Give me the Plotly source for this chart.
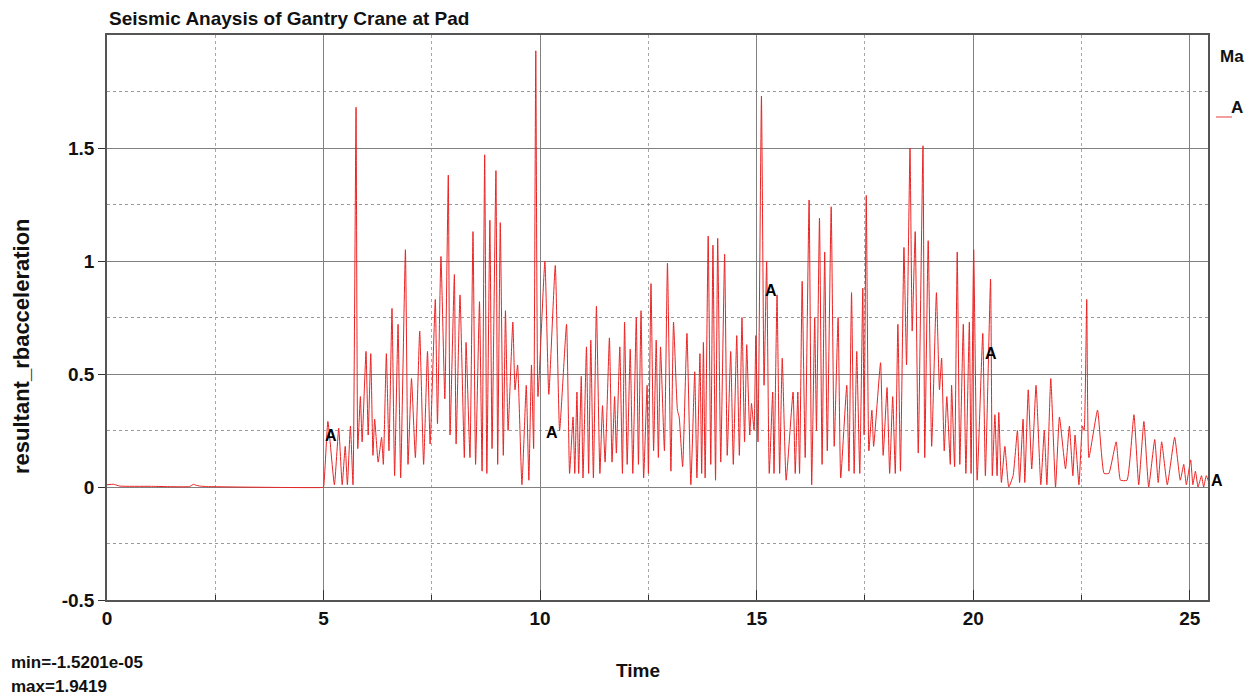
import plotly.graph_objects as go

# Time samples (s) and resultant rb acceleration (peaks & troughs)
time = [
    0.0, 0.15, 0.3, 1.0, 1.9, 2.0, 2.05, 2.15, 2.3, 3.0, 4.0, 4.98, 5.0,
    5.10, 5.25, 5.35, 5.43, 5.50, 5.55, 5.62, 5.68, 5.75, 5.79, 5.85, 5.89, 5.98, 6.03, 6.09, 6.14,
    6.18, 6.26, 6.34, 6.38, 6.45, 6.51, 6.58, 6.64, 6.72, 6.78, 6.89, 6.95, 7.03, 7.12, 7.22, 7.31,
    7.40, 7.46, 7.58, 7.63, 7.71, 7.80, 7.88, 7.92, 8.02, 8.06, 8.15, 8.25, 8.29, 8.38, 8.45, 8.51,
    8.60, 8.66, 8.72, 8.77, 8.84, 8.89, 8.98, 9.02, 9.08, 9.15, 9.20, 9.26, 9.37, 9.42, 9.48, 9.58,
    9.68, 9.74, 9.80, 9.85, 9.90, 9.95,
    10.11, 10.20, 10.35, 10.45, 10.61, 10.68, 10.76, 10.80, 10.85, 10.89, 10.95, 10.99, 11.07, 11.12,
    11.17, 11.23, 11.30, 11.38, 11.44, 11.50, 11.60, 11.66, 11.72, 11.76, 11.84, 11.90, 11.95, 12.01,
    12.08, 12.14, 12.22, 12.27, 12.33, 12.39, 12.47, 12.50, 12.56, 12.62, 12.68, 12.73, 12.78, 12.87,
    12.94, 13.02, 13.08, 13.17, 13.21, 13.29, 13.39, 13.48, 13.57, 13.62, 13.69, 13.73, 13.77, 13.81,
    13.88, 13.94, 13.99, 14.05, 14.10, 14.17, 14.26, 14.32, 14.40, 14.46, 14.54, 14.60, 14.66, 14.72,
    14.77, 14.84, 14.88, 14.94, 14.98, 15.03, 15.11,
    15.17, 15.23, 15.29, 15.37, 15.40, 15.47, 15.53, 15.59, 15.68, 15.84, 15.89, 15.95, 15.99, 16.05,
    16.12, 16.21, 16.27, 16.34, 16.38, 16.45, 16.51, 16.57, 16.63, 16.72, 16.79, 16.88, 16.94, 17.08,
    17.13, 17.19, 17.25, 17.31, 17.38, 17.45, 17.48, 17.53, 17.59, 17.66, 17.70, 17.86, 17.92, 18.01,
    18.07, 18.14, 18.20, 18.26, 18.32, 18.40, 18.46, 18.54, 18.59, 18.66, 18.73, 18.84, 18.88, 18.96,
    19.04, 19.15, 19.22, 19.27, 19.33, 19.39, 19.47, 19.50, 19.57, 19.63, 19.69, 19.77, 19.83, 19.91,
    19.95, 20.01, 20.09, 20.22, 20.28,
    20.40, 20.44, 20.50, 20.55, 20.59, 20.65, 20.73, 20.82, 20.92, 21.02, 21.07, 21.15, 21.19, 21.27,
    21.35, 21.45, 21.56, 21.64, 21.70, 21.79, 21.90, 21.99, 22.13, 22.22, 22.30, 22.35, 22.44, 22.52,
    22.56, 22.62, 22.67, 22.87, 23.02, 23.13, 23.30, 23.40, 23.55, 23.71, 23.82, 23.94, 24.05, 24.19,
    24.27, 24.35, 24.48, 24.65, 24.78, 24.86, 24.92, 25.02, 25.07, 25.13, 25.19, 25.27, 25.32, 25.38,
    25.44,
]
accel = [
    0.01, 0.012, 0.004, 0.003, 0.002, 0.012, 0.008, 0.004, 0.002, 0.0, -0.002, -0.002, 0.0,
    0.29, 0.01, 0.26, 0.01, 0.18, 0.01, 0.27, 0.01, 1.68, 0.17, 0.40, 0.20, 0.60, 0.23, 0.59, 0.14,
    0.30, 0.11, 0.22, 0.10, 0.59, 0.16, 0.79, 0.05, 0.72, 0.04, 1.05, 0.10, 0.48, 0.13, 0.69, 0.10,
    0.60, 0.19, 0.83, 0.28, 1.02, 0.39, 1.38, 0.23, 0.94, 0.19, 0.85, 0.13, 0.64, 0.13, 1.13, 0.10,
    0.82, 0.07, 1.47, 0.06, 1.18, 0.17, 1.40, 0.10, 1.17, 0.14, 0.78, 0.25, 0.73, 0.43, 0.54, 0.01,
    0.45, 0.03, 0.54, 0.17, 1.93, 0.40,
    1.00, 0.41, 0.98, 0.25, 0.72, 0.06, 0.31, 0.06, 0.42, 0.06, 0.49, 0.04, 0.62, 0.06,
    0.65, 0.04, 0.80, 0.06, 0.36, 0.11, 0.66, 0.11, 0.40, 0.15, 0.62, 0.06, 0.73, 0.10,
    0.61, 0.06, 0.75, 0.10, 0.78, 0.04, 0.45, 0.06, 0.90, 0.16, 0.65, 0.13, 0.62, 0.16,
    0.99, 0.07, 0.73, 0.34, 0.31, 0.09, 0.68, 0.01, 0.51, 0.04, 0.59, 0.06, 0.64, 0.04,
    1.11, 0.10, 1.07, 0.03, 1.10, 0.11, 1.03, 0.14, 0.60, 0.10, 0.67, 0.14, 0.75, 0.20,
    0.63, 0.23, 0.37, 0.25, 0.67, 0.20, 1.73,
    0.45, 1.00, 0.06, 0.42, 0.06, 0.85, 0.06, 0.57, 0.03, 0.42, 0.06, 0.42, 0.06, 0.91,
    0.13, 1.27, 0.01, 0.75, 0.25, 1.19, 0.10, 1.04, 0.16, 1.24, 0.18, 0.75, 0.04, 0.45,
    0.07, 0.86, 0.06, 0.60, 0.06, 0.88, 0.23, 1.29, 0.16, 0.34, 0.18, 0.55, 0.14, 0.44,
    0.06, 0.40, 0.06, 0.72, 0.07, 1.06, 0.54, 1.50, 0.69, 1.13, 0.15, 1.51, 0.13, 1.09,
    0.18, 0.86, 0.43, 0.57, 0.16, 0.40, 0.10, 0.45, 0.09, 1.04, 0.10, 0.72, 0.06, 0.73,
    0.06, 1.05, 0.03, 0.68, 0.05,
    0.92, 0.05, 0.32, 0.05, 0.33, 0.02, 0.18, 0.00, 0.05, 0.25, 0.02, 0.30, 0.02, 0.43,
    0.08, 0.45, 0.01, 0.25, 0.01, 0.48, 0.00, 0.31, 0.08, 0.27, 0.05, 0.23, 0.01, 0.27,
    0.25, 0.83, 0.13, 0.34, 0.06, 0.06, 0.20, 0.03, 0.03, 0.32, 0.01, 0.29, 0.00, 0.21,
    0.02, 0.20, 0.01, 0.22, 0.03, 0.10, 0.01, 0.12, 0.01, 0.07, 0.00, 0.05, 0.00, 0.05,
    0.02,
]

# curve label positions ("A" markers along the curve); the last one sits just past the right border
label_t = [5.18, 10.28, 15.33, 20.42, 25.42]
label_v = [0.23, 0.24, 0.87, 0.59, 0.03]
label_shift = [0, 0, 0, 0, 9]

x_ticks = [0, 5, 10, 15, 20, 25]
y_ticks = [-0.5, 0, 0.5, 1, 1.5]

FONT = "Liberation Sans, Arial, sans-serif"

fig = go.Figure()
fig.add_trace(go.Scatter(
    x=time, y=accel, mode="lines",
    line=dict(color="rgb(235,35,35)", width=1, shape="spline", smoothing=0.4),
    showlegend=False, hoverinfo="skip",
))

axis_common = dict(
    showline=True, linecolor="#555", linewidth=1.5, mirror=True,
    showgrid=True, gridcolor="#808080", gridwidth=1,
    tickcolor="#333", tickwidth=1,
    zeroline=False,
    tickfont=dict(family=FONT, size=19, color="#111", weight="bold"),
)

fig.update_xaxes(
    range=[0, 25.42], tickvals=x_ticks, ticktext=[str(v) for v in x_ticks],
    ticks="inside", ticklen=10,
    minor=dict(dtick=2.5, tick0=0, showgrid=True, gridcolor="#a8a8a8", griddash="dot",
               ticks="inside", ticklen=5),
    **axis_common,
)
fig.update_yaxes(
    range=[-0.5, 2.0], tickvals=y_ticks, ticktext=["-0.5", "0", "0.5", "1", "1.5"],
    ticks="outside", ticklen=7,
    minor=dict(dtick=0.25, tick0=0, showgrid=True, gridcolor="#9a9a9a", griddash="dot", ticks=""),
    **axis_common,
)

annotations = []
for tt, vv, sh in zip(label_t, label_v, label_shift):
    annotations.append(dict(x=tt, y=vv, xref="x", yref="y", text="A", showarrow=False,
                            xshift=sh,
                            font=dict(family=FONT, size=16, color="#000", weight="bold"),
                            xanchor="center", yanchor="middle"))

# page offset (browser body margin) and plot-area pixel box in page coordinates
OFF = 8
L, R, T, B = 107, 1208, 35, 600

def px_x(p):
    return (p - L) / (R - L)

def px_y(p):
    return (B - p) / (B - T)

def paper_text(text, px, py, size, xanchor="left", angle=0):
    annotations.append(dict(
        x=px_x(px), y=px_y(py), xref="paper", yref="paper", text=text, showarrow=False,
        xanchor=xanchor, yanchor="middle", textangle=angle,
        font=dict(family=FONT, size=size, color="#111", weight="bold"),
    ))

paper_text("Seismic Anaysis of Gantry Crane at Pad", 107, 18, 19)
paper_text("resultant_rbacceleration", 22, 346, 22, xanchor="center", angle=-90)
paper_text("Time", 638, 670, 19, xanchor="center")
paper_text("min=-1.5201e-05", 9, 662, 17)
paper_text("max=1.9419", 9, 686, 17)
paper_text("Ma", 1218, 56, 17)
paper_text("A", 1229, 108, 17)

fig.add_shape(type="line", xref="paper", yref="paper",
              x0=px_x(1216), x1=px_x(1232), y0=px_y(117), y1=px_y(117),
              line=dict(color="rgb(235,60,60)", width=1))

fig.update_layout(
    width=1256, height=698,
    margin=dict(l=L - OFF, r=1256 - (R - OFF), t=T - OFF, b=698 - (B - OFF)),
    paper_bgcolor="white", plot_bgcolor="white",
    annotations=annotations,
    showlegend=False,
)

fig.write_html("out.html")
